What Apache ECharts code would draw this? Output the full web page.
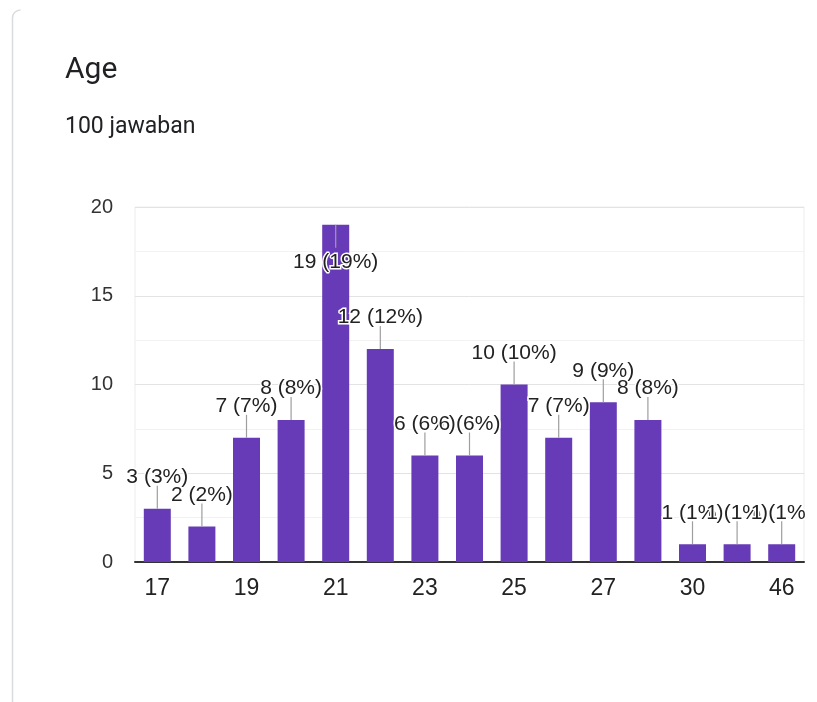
<!DOCTYPE html>
<html>
<head>
<meta charset="utf-8">
<script src="https://cdn.jsdelivr.net/npm/echarts@6/dist/echarts.min.js"></script>
<style>
html,body{margin:0;padding:0;background:#fff;}
#chart{width:817px;height:702px;}
</style>
</head>
<body>
<div id="chart"></div>
<script>
const titleText = 'Age';
const subtitleText = '100 jawaban';
const totalResponses = 100;
const categories = ['17','18','19','20','21','22','23','24','25','26','27','28','30','31','46'];
const counts = [3,2,7,8,19,12,6,6,10,7,9,8,1,1,1];
const yMin = 0, yMax = 20, yInterval = 5;

const labelData = counts.map((v, i) => [i, v]);
const chartFont = "'Liberation Sans', Arial, sans-serif";

const chart = echarts.init(document.getElementById('chart'), null, {renderer: 'canvas'});
chart.setOption({
  animation: false,
  backgroundColor: '#fff',
  title: [
    {text: titleText, left: 60, top: 50, textStyle: {fontFamily: 'Roboto', fontSize: 30, fontWeight: 'normal', color: '#202124'}},
    {text: subtitleText, left: 60, top: 111, textStyle: {fontFamily: 'Roboto', fontSize: 23, fontWeight: 'normal', color: '#202124'}}
  ],
  graphic: [
    {type: 'line', shape: {x1: 12.5, y1: 18, x2: 12.5, y2: 702}, style: {stroke: '#dadce0', lineWidth: 1.5}},
    {type: 'arc', shape: {cx: 20.5, cy: 18, r: 8, startAngle: Math.PI, endAngle: Math.PI * 1.5}, style: {stroke: '#dadce0', lineWidth: 1.5, fill: null}}
  ],
  grid: {left: 135, right: 13, top: 207, bottom: 140, show: true, borderColor: '#ececec', borderWidth: 1},
  xAxis: {
    type: 'category',
    data: categories,
    axisTick: {show: false},
    axisLine: {lineStyle: {color: '#333', width: 2}},
    axisLabel: {interval: 1, fontSize: 23, color: '#222', margin: 15, fontFamily: chartFont}
  },
  yAxis: {
    type: 'value',
    min: yMin, max: yMax, interval: yInterval,
    axisLine: {show: false},
    axisTick: {show: false},
    axisLabel: {fontSize: 20, color: '#333', margin: 22, fontFamily: chartFont},
    splitLine: {lineStyle: {color: '#e3e3e3', width: 1}},
    minorTick: {show: false, splitNumber: 2},
    minorSplitLine: {show: true, lineStyle: {color: '#f2f2f2', width: 1}}
  },
  series: [
    {
      type: 'bar',
      data: counts,
      barWidth: 27,
      itemStyle: {color: '#673ab7'}
    },
    {
      type: 'custom',
      data: labelData,
      encode: {x: 0, y: 1},
      z: 10,
      renderItem: function (params, api) {
        const v = api.value(1);
        const p = api.coord([api.value(0), v]);
        const cs = params.coordSys;
        const flip = p[1] - 45 < cs.y;
        const len = 23;
        const y2 = flip ? p[1] + len : p[1] - len;
        const txt = v + ' (' + Math.round(v / totalResponses * 100) + '%)';
        return {
          type: 'group',
          clipPath: {type: 'rect', shape: {x: 0, y: 0, width: cs.x + cs.width + 1, height: 702}},
          children: [
            {type: 'line', shape: {x1: p[0], y1: p[1], x2: p[0], y2: y2}, style: {stroke: '#9e9e9e', lineWidth: 1.2}},
            {type: 'text', x: p[0], y: flip ? y2 + 4 : y2 + 2,
              style: {text: txt, align: 'center', verticalAlign: flip ? 'top' : 'bottom',
                font: '21px ' + chartFont, fill: '#222', stroke: '#fff', lineWidth: 3}}
          ]
        };
      }
    }
  ]
});
</script>
</body>
</html>
